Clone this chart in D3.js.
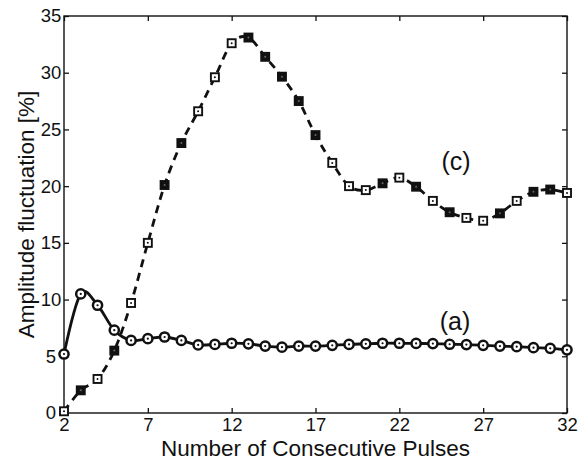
<!DOCTYPE html>
<html>
  <head>
    <meta charset="utf-8">
    <title>Amplitude fluctuation</title>
    <script src="https://cdn.jsdelivr.net/npm/d3@7"></script>
    <style>
      body { margin: 0; background: #fff; }
      text { font-family: "Liberation Sans", Arial, Helvetica, sans-serif; fill: #111; }
    </style>
  </head>
  <body>
  <script>

    // pulses on the x axis
    var pulses = d3.range(2, 33);

    // series (a) - solid line, circles
    var seriesA = [5.2, 10.5, 9.5, 7.3, 6.4, 6.55, 6.7, 6.4, 6.0, 6.05, 6.15, 6.1, 5.9, 5.8,
                   5.9, 5.9, 5.97, 6.05, 6.1, 6.15, 6.15, 6.13, 6.12, 6.06, 6.03, 5.97, 5.9,
                   5.85, 5.76, 5.7, 5.57];

    // series (c) - dashed line, squares
    var seriesC = [0.15, 2.0, 3.0, 5.5, 9.7, 15.0, 20.1, 23.8, 26.6, 29.6, 32.6, 33.1, 31.4,
                   29.65, 27.5, 24.5, 22.05, 20.0, 19.65, 20.25, 20.75, 19.95, 18.7, 17.7, 17.2,
                   16.95, 17.6, 18.7, 19.5, 19.7, 19.4];

    var xTicks = [2, 7, 12, 17, 22, 27, 32];
    var yTicks = [0, 5, 10, 15, 20, 25, 30, 35];

    // squares that look hollow in the scan
    var hollow = [2, 4, 6, 7, 10, 11, 12, 18, 19, 20, 22, 24, 26, 27, 29, 32];

    var width = 582, height = 463;
    var plotL = 64, plotR = 567, plotT = 16, plotB = 413;

    var svg = d3.select("body").append("svg")
        .attr("width", width)
        .attr("height", height);

    var x = d3.scaleLinear().domain([2, 32]).range([plotL, plotR]);
    var y = d3.scaleLinear().domain([0, 35]).range([plotB, plotT]);

    // axes, ticks pointing inwards on all four sides
    function styleAxis(g) {
      g.select(".domain").remove();
      g.selectAll("line").attr("stroke", "#111").attr("stroke-width", 1.3);
      g.selectAll("text").attr("font-size", 18.5).attr("fill", "#111")
        .attr("font-family", "Liberation Sans, Arial, sans-serif");
    }

    svg.append("g")
        .attr("transform", "translate(0," + plotB + ")")
        .call(d3.axisBottom(x).tickValues(xTicks).tickSizeInner(-5).tickSizeOuter(0).tickPadding(5))
        .call(styleAxis);

    svg.append("g")
        .attr("transform", "translate(0," + plotT + ")")
        .call(d3.axisTop(x).tickValues(xTicks).tickSizeInner(-5).tickSizeOuter(0).tickFormat(""))
        .call(styleAxis);

    // y labels are centred in a column left of the axis
    svg.append("g")
        .attr("transform", "translate(" + plotL + ",0)")
        .call(d3.axisLeft(y).tickValues(yTicks).tickSizeInner(-5).tickSizeOuter(0))
        .call(styleAxis)
        .selectAll("text")
        .attr("text-anchor", "middle")
        .attr("x", -13);

    svg.append("g")
        .attr("transform", "translate(" + plotR + ",0)")
        .call(d3.axisRight(y).tickValues(yTicks).tickSizeInner(-5).tickSizeOuter(0).tickFormat(""))
        .call(styleAxis);

    svg.append("rect")
        .attr("x", plotL).attr("y", plotT)
        .attr("width", plotR - plotL).attr("height", plotB - plotT)
        .attr("fill", "none").attr("stroke", "#111").attr("stroke-width", 1.4);

    // axis titles
    svg.append("text")
        .attr("x", (plotL + plotR) / 2).attr("y", 456)
        .attr("text-anchor", "middle").attr("font-size", 22.5)
        .text("Number of Consecutive Pulses");

    svg.append("text")
        .attr("transform", "translate(34," + ((plotT + plotB) / 2) + ") rotate(-90)")
        .attr("text-anchor", "middle").attr("font-size", 22.5)
        .text("Amplitude fluctuation [%]");

    var line = d3.line()
        .x(function (d) { return x(d[0]); })
        .y(function (d) { return y(d[1]); })
        .curve(d3.curveCardinal.tension(0));

    var dataA = pulses.map(function (p, i) { return [p, seriesA[i]]; });
    var dataC = pulses.map(function (p, i) { return [p, seriesC[i]]; });

    // (c) dashed
    svg.append("path")
        .datum(dataC)
        .attr("d", line)
        .attr("fill", "none").attr("stroke", "#111")
        .attr("stroke-width", 2.8).attr("stroke-dasharray", "8,6");

    svg.selectAll(".sq")
        .data(dataC)
        .enter().append("rect")
        .attr("class", "sq")
        .attr("x", function (d) { return x(d[0]) - 4; })
        .attr("y", function (d) { return y(d[1]) - 4; })
        .attr("width", 8).attr("height", 8)
        .attr("fill", function (d) { return hollow.indexOf(d[0]) >= 0 ? "#fff" : "#111"; })
        .attr("stroke", "#111").attr("stroke-width", 1.9);

    svg.selectAll(".sqdot")
        .data(dataC)
        .enter().append("circle")
        .attr("class", "sqdot")
        .attr("cx", function (d) { return x(d[0]); })
        .attr("cy", function (d) { return y(d[1]); })
        .attr("r", 1)
        .attr("fill", function (d) { return hollow.indexOf(d[0]) >= 0 ? "#111" : "#666"; });

    // (a) solid
    svg.append("path")
        .datum(dataA)
        .attr("d", line)
        .attr("fill", "none").attr("stroke", "#111")
        .attr("stroke-width", 2.8);

    svg.selectAll(".circ")
        .data(dataA)
        .enter().append("circle")
        .attr("class", "circ")
        .attr("cx", function (d) { return x(d[0]); })
        .attr("cy", function (d) { return y(d[1]); })
        .attr("r", 4.6)
        .attr("fill", "#fff").attr("stroke", "#111").attr("stroke-width", 2.5);

    svg.selectAll(".cdot")
        .data(dataA)
        .enter().append("circle")
        .attr("class", "cdot")
        .attr("cx", function (d) { return x(d[0]); })
        .attr("cy", function (d) { return y(d[1]); })
        .attr("r", 1.1).attr("fill", "#111");

    // curve labels
    svg.append("text").attr("x", 456).attr("y", 170)
        .attr("text-anchor", "middle").attr("font-size", 25).text("(c)");
    svg.append("text").attr("x", 455).attr("y", 330)
        .attr("text-anchor", "middle").attr("font-size", 25).text("(a)");

  </script>
  </body>
</html>
